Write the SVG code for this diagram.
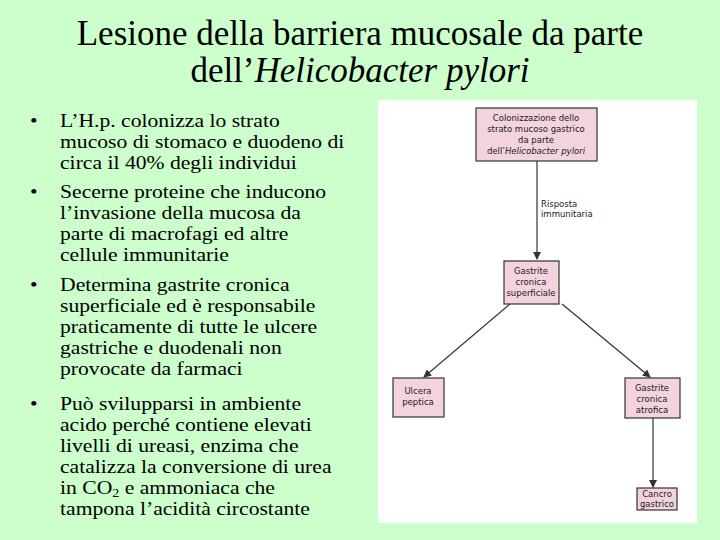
<svg xmlns="http://www.w3.org/2000/svg" width="720" height="540" viewBox="0 0 720 540">
<style>
.t{font-family:"Liberation Serif",serif;fill:#000}
.b{fill:#f3d3dc;stroke:#333;stroke-width:1.2}
.s{font-family:"DejaVu Sans","Liberation Sans",sans-serif;font-size:8.5px;fill:#222;text-anchor:middle}
.c{stroke:#333;stroke-width:1.2;fill:none;marker-end:url(#a)}
</style>
<defs><marker id="a" markerWidth="8" markerHeight="8" refX="7" refY="4" orient="auto" markerUnits="userSpaceOnUse"><path d="M0,0 L8,4 L0,8 Z" fill="#333"/></marker></defs>
<rect width="720" height="540" fill="#ccffcc"/>
<g id="title" class="t" font-size="35" text-anchor="middle">
<text x="360" y="45">Lesione della barriera mucosale da parte</text>
<text x="360" y="82">dell’<tspan font-style="italic">Helicobacter pylori</tspan></text>
</g>
<g id="bullets" class="t" font-size="18.5" transform="scale(1.17,1)">
<text x="25.6" y="127">•</text><text x="51.3" y="127">L’H.p. colonizza lo strato</text>
<text x="51.3" y="148">mucoso di stomaco e duodeno di</text>
<text x="51.3" y="169">circa il 40% degli individui</text>
<text x="25.6" y="198">•</text><text x="51.3" y="198">Secerne proteine che inducono</text>
<text x="51.3" y="219">l’invasione della mucosa da</text>
<text x="51.3" y="240">parte di macrofagi ed altre</text>
<text x="51.3" y="261">cellule immunitarie</text>
<text x="25.6" y="291">•</text><text x="51.3" y="291">Determina gastrite cronica</text>
<text x="51.3" y="312">superficiale ed è responsabile</text>
<text x="51.3" y="333">praticamente di tutte le ulcere</text>
<text x="51.3" y="354">gastriche e duodenali non</text>
<text x="51.3" y="375">provocate da farmaci</text>
<text x="25.6" y="410">•</text><text x="51.3" y="410">Può svilupparsi in ambiente</text>
<text x="51.3" y="431">acido perché contiene elevati</text>
<text x="51.3" y="452">livelli di ureasi, enzima che</text>
<text x="51.3" y="473">catalizza la conversione di urea</text>
<text x="51.3" y="494">in CO<tspan font-size="12" dy="3">2</tspan><tspan dy="-3"> e ammoniaca che</tspan></text>
<text x="51.3" y="515">tampona l’acidità circostante</text>
</g>
<rect x="378" y="100" width="319" height="423" fill="#fff"/>
<g id="connectors">
<line class="c" x1="537" y1="161" x2="537" y2="259"/>
<line class="c" x1="510" y1="304" x2="424" y2="377"/>
<line class="c" x1="562" y1="304" x2="650" y2="377"/>
<line class="c" x1="653" y1="418" x2="653" y2="487"/>
<text class="s" x="541" y="207" style="text-anchor:start">Risposta</text>
<text class="s" x="541" y="217" style="text-anchor:start">immunitaria</text>
</g>
<g id="n1"><rect class="b" x="476" y="108" width="121" height="53"/>
<text class="s" x="536" y="121">Colonizzazione dello</text><text class="s" x="536" y="132">strato mucoso gastrico</text><text class="s" x="536" y="143">da parte</text><text class="s" x="536" y="154">dell’<tspan font-style="italic">Helicobacter pylori</tspan></text></g>
<g id="n2"><rect class="b" x="504" y="261" width="55" height="43"/>
<text class="s" x="531" y="274">Gastrite</text><text class="s" x="531" y="285">cronica</text><text class="s" x="531" y="296">superficiale</text></g>
<g id="n3"><rect class="b" x="393" y="378" width="51" height="39"/>
<text class="s" x="418" y="394">Ulcera</text><text class="s" x="418" y="405">peptica</text></g>
<g id="n4"><rect class="b" x="625" y="378" width="55" height="40"/>
<text class="s" x="652" y="391">Gastrite</text><text class="s" x="652" y="402">cronica</text><text class="s" x="652" y="413">atrofica</text></g>
<g id="n5"><rect class="b" x="637" y="488" width="40" height="22"/>
<text class="s" x="657" y="497">Cancro</text><text class="s" x="657" y="507">gastrico</text></g>
</svg>
